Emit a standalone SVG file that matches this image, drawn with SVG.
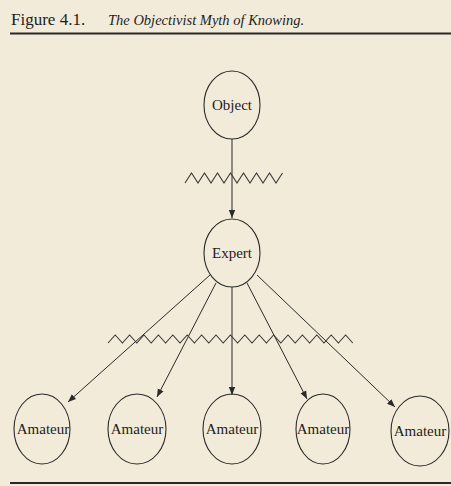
<svg xmlns="http://www.w3.org/2000/svg" width="451" height="486" viewBox="0 0 451 486">
<style>
.bg{fill:#f2ebda}
.node{fill:none;stroke:#2b2a28;stroke-width:1.1}
.lbl{font-family:"Liberation Serif","DejaVu Serif",serif;font-size:15px;fill:#1e1d1b;text-anchor:middle}
.edge{stroke:#2b2a28;stroke-width:1;fill:none;marker-end:url(#ah)}
.zig{stroke:#3a3935;stroke-width:1.1;fill:none}
.rule{stroke:#2a2926;stroke-width:2}
</style>
<defs>
<marker id="ah" viewBox="0 0 10 10" refX="10" refY="5" markerWidth="8" markerHeight="8" markerUnits="userSpaceOnUse" orient="auto">
<path d="M0,1 L10,5 L0,9 Z" fill="#2b2a28"/>
</marker>
</defs>
<rect class="bg" x="0" y="0" width="451" height="486"/>
<g id="title">
<text x="11" y="25" font-family="Liberation Serif,serif" font-size="17" fill="#1e1d1b">Figure 4.1.</text>
<text x="108" y="25" font-family="Liberation Serif,serif" font-size="14.5" font-style="italic" fill="#1e1d1b">The Objectivist Myth of Knowing.</text>
<line class="rule" x1="10" y1="33.5" x2="451" y2="33.5"/>
<line class="rule" x1="10" y1="483" x2="451" y2="483"/>
</g>
<g id="connectors">
<line class="edge" x1="232" y1="139" x2="232" y2="218"/>
<line class="edge" x1="210" y1="275" x2="68" y2="402"/>
<line class="edge" x1="216" y1="283" x2="157" y2="397"/>
<line class="edge" x1="232" y1="287" x2="232" y2="395"/>
<line class="edge" x1="247" y1="283" x2="307" y2="399"/>
<line class="edge" x1="257" y1="275" x2="395" y2="407"/>
</g>
<g id="barriers">
<path class="zig" d="M185 183 l6.5 -10 l6.5 10 l6.5 -10 l6.5 10 l6.5 -10 l6.5 10 l6.5 -10 l6.5 10 l6.5 -10 l6.5 10 l6.5 -10 l6.5 10 l6.5 -10 l6.5 10 l6.5 -10"/>
<path class="zig" d="M108 343 l7.2 -8 l7.2 8 l7.2 -8 l7.2 8 l7.2 -8 l7.2 8 l7.2 -8 l7.2 8 l7.2 -8 l7.2 8 l7.2 -8 l7.2 8 l7.2 -8 l7.2 8 l7.2 -8 l7.2 8 l7.2 -8 l7.2 8 l7.2 -8 l7.2 8 l7.2 -8 l7.2 8 l7.2 -8 l7.2 8 l7.2 -8 l7.2 8 l7.2 -8 l7.2 8 l7.2 -8 l7.2 8 l7.2 -8 l7.2 8 l7.2 -8 l7.2 8"/>
</g>
<g id="object"><ellipse class="node" cx="232" cy="105" rx="28" ry="34"/><text class="lbl" x="232" y="110">Object</text></g>
<g id="expert"><ellipse class="node" cx="232" cy="253" rx="28" ry="34"/><text class="lbl" x="232" y="258">Expert</text></g>
<g id="amateur1"><ellipse class="node" cx="42" cy="429" rx="28" ry="35"/><text class="lbl" x="43" y="434">Amateur</text></g>
<g id="amateur2"><ellipse class="node" cx="137" cy="429" rx="29" ry="35"/><text class="lbl" x="137" y="434">Amateur</text></g>
<g id="amateur3"><ellipse class="node" cx="232" cy="429" rx="29" ry="35"/><text class="lbl" x="232" y="434">Amateur</text></g>
<g id="amateur4"><ellipse class="node" cx="323" cy="429" rx="27" ry="35"/><text class="lbl" x="323" y="434">Amateur</text></g>
<g id="amateur5"><ellipse class="node" cx="420" cy="431" rx="29" ry="35"/><text class="lbl" x="420" y="436">Amateur</text></g>
</svg>
